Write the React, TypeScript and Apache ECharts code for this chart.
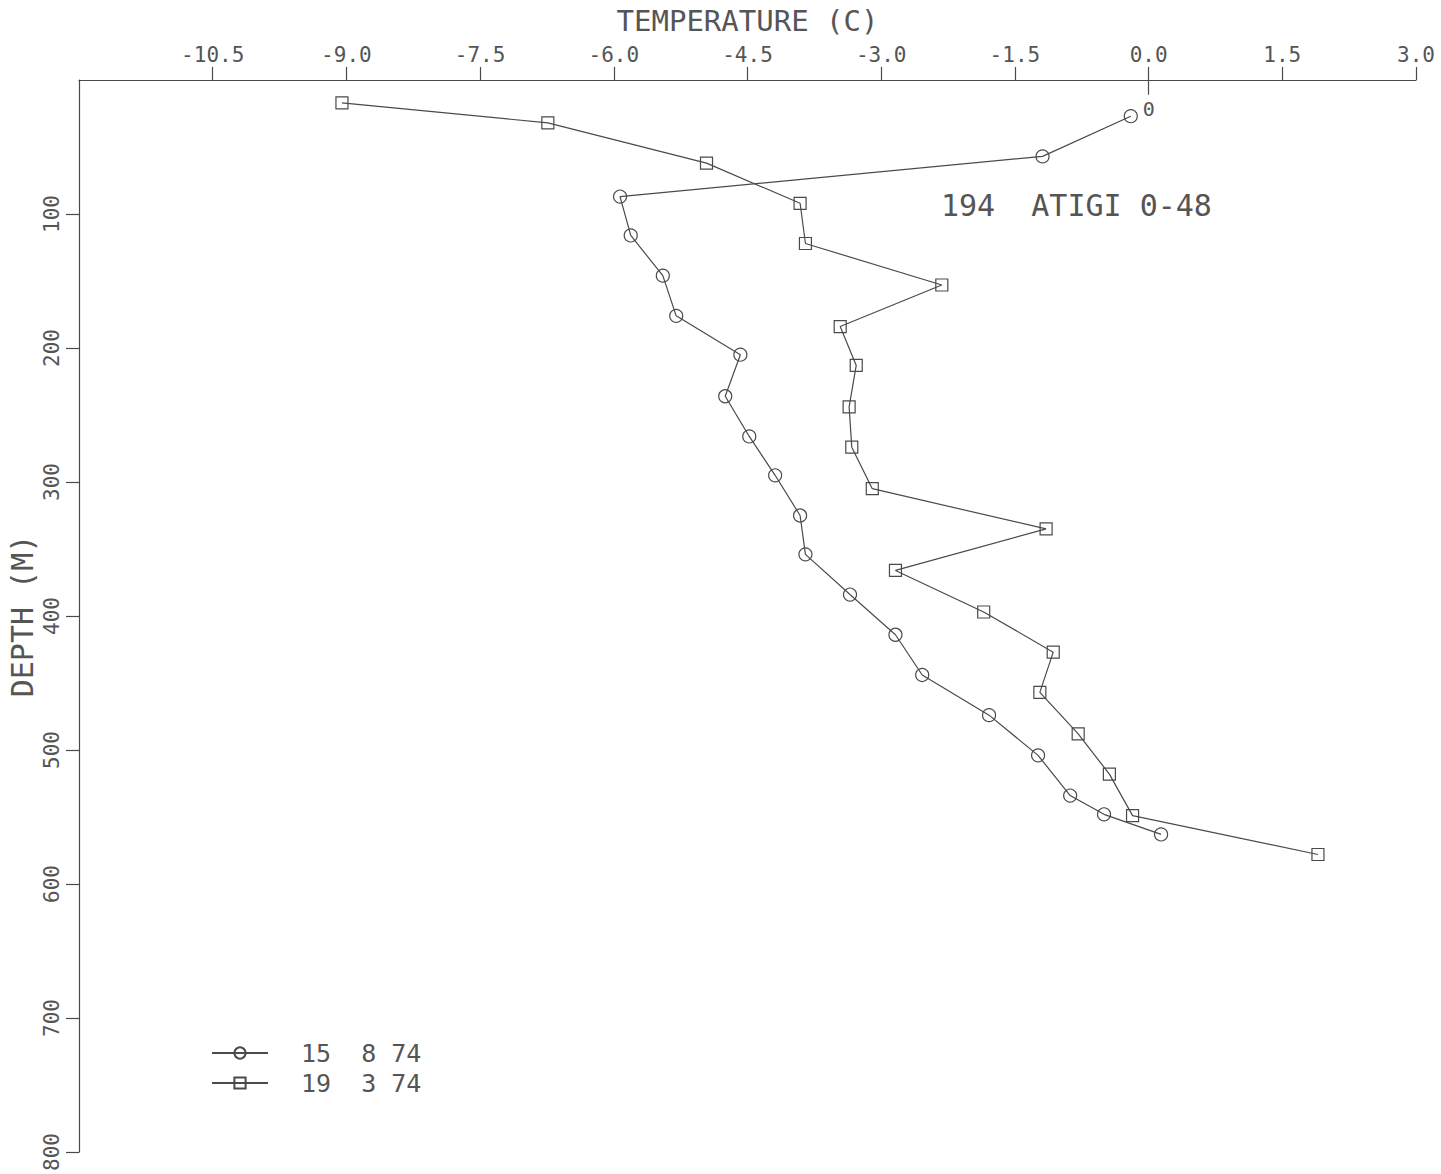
import React, { useEffect, useRef } from "react";
import * as echarts from "echarts";

// Temperature profiles, borehole 194 ATIGI 0-48
const profile1Name = "15  8 74";
const profile1Depth = [27, 57, 87, 116, 146, 176, 205, 236, 266, 295, 325, 354, 384, 414, 444, 474, 504, 534, 548, 563];
const profile1Temp = [-0.2, -1.19, -5.93, -5.81, -5.45, -5.3, -4.58, -4.75, -4.48, -4.19, -3.91, -3.85, -3.35, -2.84, -2.54, -1.79, -1.24, -0.88, -0.5, 0.14];

const profile2Name = "19  3 74";
const profile2Depth = [17, 32, 62, 92, 122, 153, 184, 213, 244, 274, 305, 335, 366, 397, 427, 457, 488, 518, 549, 578];
const profile2Temp = [-9.05, -6.74, -4.96, -3.91, -3.85, -2.32, -3.46, -3.28, -3.36, -3.33, -3.1, -1.15, -2.84, -1.85, -1.07, -1.22, -0.79, -0.44, -0.18, 1.9];

const tempTicks = [-10.5, -9, -7.5, -6, -4.5, -3, -1.5, 0, 1.5, 3];
const depthTicks = [100, 200, 300, 400, 500, 600, 700, 800];

const stationLabel = "194  ATIGI 0-48";

const FONT = "'DejaVu Sans Mono', monospace";
const INK = "#4a4a4a";
const TEXT = "#555";

export default function App() {
  const ref = useRef<HTMLDivElement>(null);

  useEffect(() => {
    if (!ref.current) return;
    const chart = echarts.init(ref.current, null, { renderer: "svg" });

    const lineStyle = { color: INK, width: 1.2 };
    const markerStyle = { color: "rgba(0,0,0,0)", borderColor: INK, borderWidth: 1.2 };

    const zip = (t: number[], d: number[]) => t.map((v, i) => [v, d[i]]);

    chart.setOption({
      animation: false,
      backgroundColor: "#ffffff",
      textStyle: { fontFamily: FONT, color: TEXT },
      title: {
        text: stationLabel,
        left: 936,
        top: 185,
        textStyle: { fontFamily: FONT, fontSize: 30, fontWeight: "normal", color: TEXT },
      },
      legend: {
        orient: "vertical",
        left: 206,
        top: 1033,
        itemWidth: 56,
        itemHeight: 14,
        itemGap: 0,
        data: [profile1Name, profile2Name],
        textStyle: {
          fontFamily: FONT,
          fontSize: 25,
          color: TEXT,
          lineHeight: 30,
          padding: [0, 0, 0, 28],
        },
      },
      grid: {
        left: 79,
        top: 80,
        right: 25,
        bottom: 22,
        containLabel: false,
        outerBoundsMode: "none",
      },
      xAxis: {
        type: "value",
        position: "top",
        min: -12,
        max: 3,
        interval: 1.5,
        name: "TEMPERATURE (C)",
        nameLocation: "middle",
        nameGap: 45,
        nameMoveOverlap: false,
        nameTextStyle: { fontFamily: FONT, fontSize: 29, color: TEXT },
        axisLine: { show: true, onZero: false, lineStyle },
        axisTick: { show: true, length: 13, customValues: tempTicks, lineStyle },
        axisLabel: {
          customValues: tempTicks,
          formatter: (v: number) => v.toFixed(1),
          margin: 15,
          fontFamily: FONT,
          fontSize: 21,
          color: TEXT,
        },
        splitLine: { show: false },
      },
      yAxis: {
        type: "value",
        inverse: true,
        min: 0,
        max: 800,
        interval: 100,
        name: "DEPTH (M)",
        nameLocation: "middle",
        nameGap: 42,
        nameMoveOverlap: false,
        nameRotate: 90,
        nameTextStyle: { fontFamily: FONT, fontSize: 30, color: TEXT },
        axisLine: { show: true, onZero: false, lineStyle },
        axisTick: { show: true, length: 13, customValues: depthTicks, lineStyle },
        axisLabel: {
          customValues: depthTicks,
          rotate: 90,
          margin: 17,
          fontFamily: FONT,
          fontSize: 21,
          color: TEXT,
        },
        splitLine: { show: false },
      },
      series: [
        {
          name: profile1Name,
          type: "line",
          data: zip(profile1Temp, profile1Depth).map((p, i) =>
            i === 0
              ? {
                  value: p,
                  label: {
                    show: true,
                    formatter: "0",
                    position: "right",
                    distance: 5,
                    offset: [0, -7],
                    fontFamily: FONT,
                    fontSize: 20,
                    color: TEXT,
                  },
                }
              : p
          ),
          symbol: "circle",
          symbolSize: 13,
          lineStyle,
          itemStyle: markerStyle,
          markLine: {
            silent: true,
            symbol: "none",
            label: { show: false },
            lineStyle: { color: INK, width: 1.2, type: "solid" },
            data: [[{ coord: [0, 0] }, { coord: [0, 11] }]],
          },
          z: 3,
        },
        {
          name: profile2Name,
          type: "line",
          data: zip(profile2Temp, profile2Depth),
          symbol: "rect",
          symbolSize: 12,
          lineStyle,
          itemStyle: markerStyle,
          z: 3,
        },
      ],
    });

    return () => chart.dispose();
  }, []);

  return (
    <div
      ref={ref}
      style={{ position: "fixed", left: 0, top: 0, width: 1441, height: 1174 }}
    />
  );
}
